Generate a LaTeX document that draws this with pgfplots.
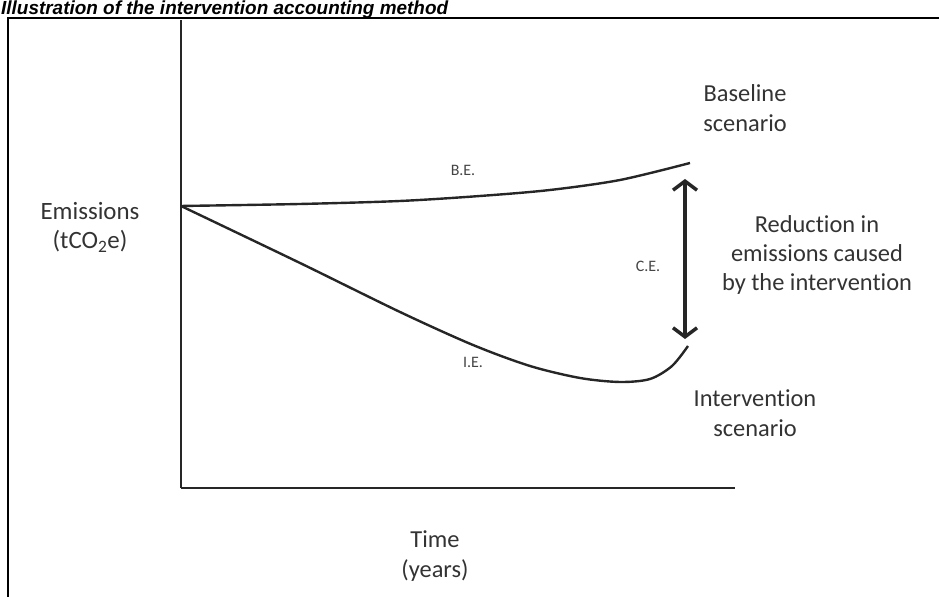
\documentclass[border=0pt]{standalone}
\usepackage{fontspec}
\setmainfont{Carlito}[Ligatures=NoCommon]
\newfontfamily\arialf{Liberation Sans}
\usepackage{pgfplots}
\pgfplotsset{compat=1.18}
\usetikzlibrary{arrows.meta}
\definecolor{ink}{HTML}{262626}
\definecolor{txt}{HTML}{333333}
\definecolor{small}{HTML}{444444}
\begin{document}
\begin{tikzpicture}[x=1bp,y=1bp]
\begin{axis}[at={(181,109)}, anchor=south west, scale only axis,
  width=554bp, height=468bp, xmin=0, xmax=554, ymin=0, ymax=468,
  axis lines=left, axis line style={-, line width=2.6bp, ink},
  ticks=none, clip=false]
% Baseline scenario (B.E.)
\addplot[ink, line width=2.4bp, smooth, tension=0.5] coordinates {
 (0,282) (119,284) (219,287) (299,292) (369,298) (439,308) (509,325)};
% Intervention scenario (I.E.)
\addplot[ink, line width=2.4bp, smooth, tension=0.5] coordinates {
 (0,282) (119,225) (219,176) (292,143) (349,122) (399,110) (439,106) (469,109) (491,122) (507,142)};
% Reduction (C.E.)
\addplot[ink, line width=3.5bp, {Straight Barb[length=9bp,width=24bp]}-{Straight Barb[length=9bp,width=24bp]}] coordinates {(504,149) (504,309)};
\end{axis}
\node[txt, font=\fontsize{25}{29}\selectfont, align=center, inner sep=0] at (90,369.5) {Emissions\\(tCO\textsubscript{2}e)};
\node[txt, font=\fontsize{24.5}{30}\selectfont, align=center, inner sep=0] at (745,489) {Baseline\\scenario};
\node[txt, font=\fontsize{24.5}{29.5}\selectfont, align=center, inner sep=0] at (817,342) {Reduction in\\emissions caused\\by the intervention};
\node[txt, font=\fontsize{24.5}{30}\selectfont, align=center, inner sep=0] at (755,184) {Intervention\\scenario};
\node[txt, font=\fontsize{24.5}{30}\selectfont, align=center, inner sep=0] at (435,41) {Time\\(years)};
\node[small, font=\fontsize{16}{19}\selectfont, inner sep=0] at (648,331) {C.E.};
\node[small, font=\fontsize{16}{19}\selectfont, inner sep=0] at (463,427) {B.E.};
\node[small, font=\fontsize{16}{19}\selectfont, inner sep=0] at (473,235) {I.E.};
\draw[line width=2bp, black] (8,-10) -- (8,579) -- (950,579);
\node[anchor=base west, inner sep=0, font=\arialf\bfseries\itshape\fontsize{19}{23}\selectfont] at (1,582.5) {Illustration of the intervention accounting method};
\pgfresetboundingbox
\useasboundingbox (0,0) rectangle (939,597);
\end{tikzpicture}
\end{document}
